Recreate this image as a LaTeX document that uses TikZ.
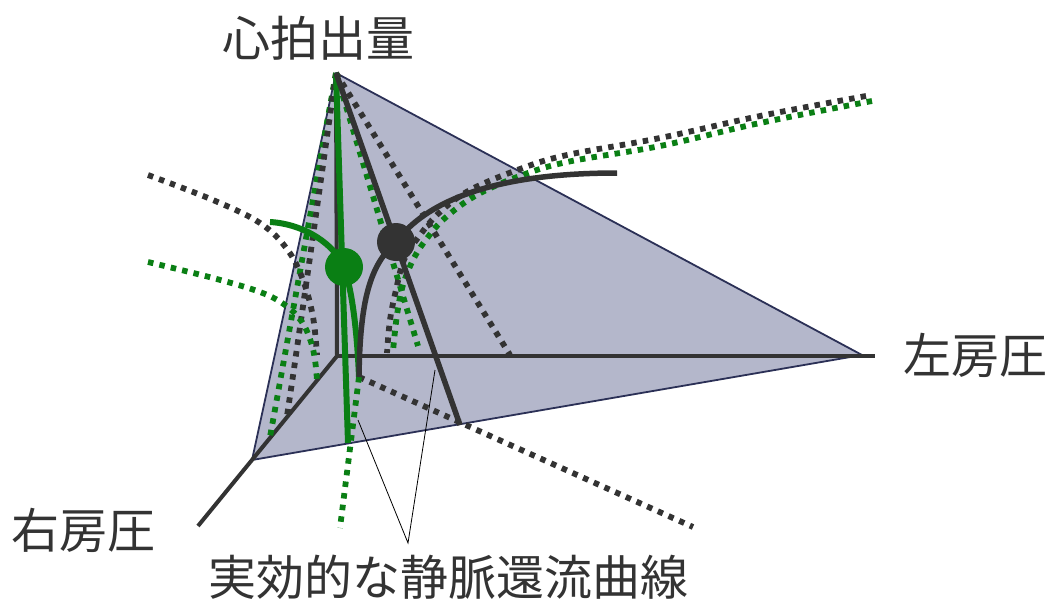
\documentclass[tikz,border=0pt]{standalone}
\usepackage{fontspec}
\newfontfamily\jp{Noto Sans CJK JP}
\definecolor{dk}{HTML}{333333}
\definecolor{gr}{HTML}{0A7F14}
\definecolor{tri}{HTML}{B4B7CB}
\definecolor{edgec}{HTML}{2B3056}
\begin{document}
\begin{tikzpicture}[x=1pt,y=-1pt,
  lbl/.style={font=\jp\fontsize{48}{52}\selectfont, text=dk, inner sep=0pt},
  axisln/.style={draw=dk, line width=4pt},
  thickdk/.style={draw=dk, line width=5.5pt},
  thickgr/.style={draw=gr, line width=6pt},
  dotdk/.style={draw=dk, line width=5.8pt, dash pattern=on 5.5pt off 6.2pt},
  dotgr/.style={draw=gr, line width=5.8pt, dash pattern=on 5.5pt off 6.2pt},
  leader/.style={draw=black, line width=0.8pt}
]
\useasboundingbox (0,0) rectangle (1049,600);
% key points
\coordinate (apex) at (336,73);
\coordinate (orig) at (337,356);
\coordinate (tl) at (252,460);
\coordinate (tr) at (862,355);
\coordinate (xend) at (875,356);
\coordinate (yend) at (198,526);
\coordinate (base) at (359,377);
\coordinate (bgr) at (348,443);
\coordinate (bdk) at (460,425);
% triangle plane
\filldraw[fill=tri, draw=edgec, line width=1.8pt, line join=round] (apex) -- (tl) -- (tr) -- cycle;
% axes
\draw[axisln] (apex) -- (orig);
\draw[axisln] (orig) -- (xend);
\draw[axisln] (orig) -- (yend);
% dotted inner lines from apex
\draw[dotgr] (apex) -- (270,437);
\draw[dotdk] (apex) .. controls (325,150) and (300,330) .. (287,416);
\draw[dotdk] (apex) -- (510,355);
\draw[dotgr] (apex) -- (418,346);
% dotted outer curves left
\draw[dotdk] plot[smooth, tension=0.6] coordinates {(148,175) (213,200) (260,223) (287,249) (303,280) (313,317) (317,355)};
\draw[dotgr] plot[smooth, tension=0.6] coordinates {(148,262) (213,278) (260,292) (285,305) (302,322) (311,342) (315,360) (317,380)};
% dotted outer curves right
\draw[dotdk] plot[smooth, tension=0.6] coordinates {(866,96) (760,116) (660,138) (567,155) (520,169) (470,190) (440,212) (420,235) (404,260) (396,290) (390,320) (387,353)};
\draw[dotgr] plot[smooth, tension=0.6] coordinates {(872,101) (760,123) (660,146) (567,162) (517,177) (475,196) (445,218) (428,237) (414,258) (403,285) (397,315) (393,351)};
% dotted straight continuations
\draw[dotdk] (base) -- (693,527);
\draw[dotgr] (base) -- (340,528);
% solid curves
\draw[thickgr] (apex) -- (bgr);
\draw[thickgr] (270,222) .. controls (305,224) and (335,245) .. (344,267) .. controls (352,290) and (357,330) .. (base);
\draw[thickdk] (apex) -- (bdk);
\draw[thickdk] (base) .. controls (360,300) and (370,265) .. (396,242) .. controls (425,203) and (490,173) .. (617,173);
% dots
\fill[gr] (344,267) circle (19pt);
\fill[dk] (396,242) circle (19pt);
% labels
\node[lbl] (co) at (318,38) {心拍出量};
\node[lbl] (la) at (975,355) {左房圧};
\node[lbl] (ra) at (83,530) {右房圧};
\node[lbl] (vr) at (448,577) {実効的な静脈還流曲線};
% leaders
\coordinate (lp) at (408,543);
\coordinate (l1) at (358,420);
\coordinate (l2) at (435,370);
\draw[leader] (l1) -- (lp) -- (l2);
\end{tikzpicture}
\end{document}
